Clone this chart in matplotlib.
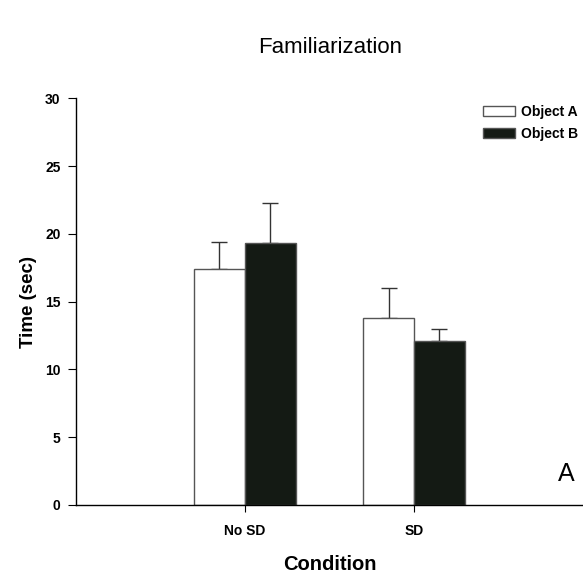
import matplotlib
matplotlib.use("Agg")
import matplotlib.pyplot as plt
import numpy as np

plt.rcParams['font.family'] = ['Liberation Sans', 'DejaVu Sans']

categories = ["No SD", "SD"]
object_a = [17.4, 13.8]
object_a_err = [2.0, 2.2]
object_b = [19.3, 12.1]
object_b_err = [3.0, 0.9]
yticks = [0, 5, 10, 15, 20, 25, 30]

fig = plt.figure(figsize=(5.83, 5.76), dpi=100)
ax = fig.add_axes([0.130, 0.1233, 0.870, 0.7060])

x = np.arange(len(categories))
w = 0.30
ax.bar(x - w / 2, object_a, w, color='white', edgecolor='#555555', linewidth=1.0,
       label='Object A', zorder=2)
ax.bar(x + w / 2, object_b, w, color='#141a14', edgecolor='#555555', linewidth=1.0,
       label='Object B', zorder=2)
ax.errorbar(x - w / 2, object_a, yerr=[np.zeros(2), object_a_err], fmt='none',
            ecolor='#333333', elinewidth=1.0, capsize=6, capthick=1.0, zorder=1)
ax.errorbar(x + w / 2, object_b, yerr=[np.zeros(2), object_b_err], fmt='none',
            ecolor='#333333', elinewidth=1.0, capsize=6, capthick=1.0, zorder=1)

ax.set_xlim(-1.0, 2.0)
ax.set_ylim(0, 30)
ax.set_yticks(yticks)
ax.set_xticks(x)
ax.set_xticklabels(categories, fontsize=10, fontweight='bold')
for t in ax.get_yticklabels():
    t.set_fontsize(10)
    t.set_fontweight('bold')
ax.tick_params(axis='y', direction='out', length=6, width=0.8, pad=5)
ax.tick_params(axis='x', direction='out', length=5, width=0.8, pad=9)
for s in ['top', 'right']:
    ax.spines[s].set_visible(False)
for s in ['left', 'bottom']:
    ax.spines[s].set_linewidth(1.0)

ax.set_ylabel('Time (sec)', fontsize=13.5, fontweight='bold', labelpad=6)
ax.set_xlabel('Condition', fontsize=14.5, fontweight='bold', labelpad=12)

fig.text(0.566, 0.917, 'Familiarization', fontsize=16, ha='center', va='center')
ax.text(1.9, 2.3, 'A', fontsize=18, ha='center', va='center')

handles, labels = ax.get_legend_handles_labels()
leg = fig.legend(handles, labels, loc='upper left', bbox_to_anchor=(0.8285, 0.818),
                 frameon=False, prop={'weight': 'bold', 'size': 10},
                 handlelength=2.3, handleheight=0.7, handletextpad=0.45,
                 labelspacing=0.6, borderpad=0, borderaxespad=0)

fig.savefig('out.png', dpi=100)
